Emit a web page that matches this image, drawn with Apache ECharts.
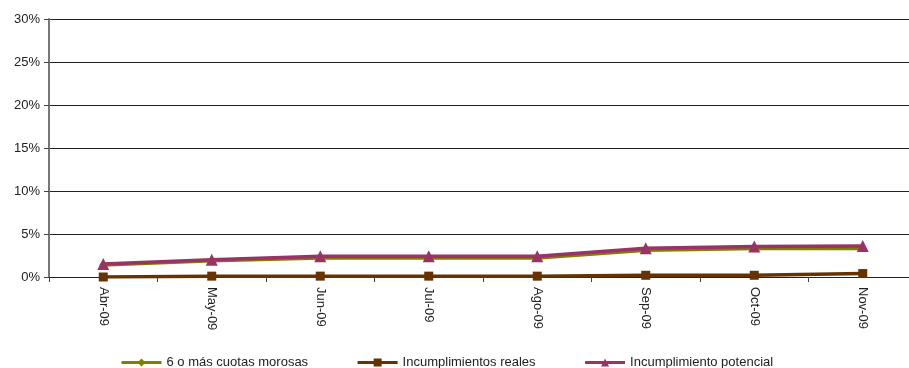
<!DOCTYPE html>
<html>
<head>
<meta charset="utf-8">
<script src="https://cdn.jsdelivr.net/npm/echarts@6/dist/echarts.min.js"></script>
<style>
    html, body { margin: 0; padding: 0; background: #fff; overflow: hidden; }
    #chart { width: 917px; height: 368px; }
</style>
</head>
<body>
<div id="chart"></div>
<script>
// datos
var months = ['Abr-09', 'May-09', 'Jun-09', 'Jul-09', 'Ago-09', 'Sep-09', 'Oct-09', 'Nov-09'];
var cuotasMorosas = [1.4, 1.9, 2.2, 2.2, 2.2, 3.1, 3.3, 3.3];
var incumplimientosReales = [0.0, 0.1, 0.1, 0.1, 0.1, 0.2, 0.2, 0.4];
var incumplimientoPotencial = [1.5, 2.0, 2.4, 2.4, 2.4, 3.35, 3.55, 3.6];

var fontName = "'Liberation Sans Narrow', 'Arial Narrow', 'Liberation Sans', sans-serif";

function chartRender() {
    var myChart = echarts.init(document.getElementById('chart'));
    var option = {
        animation: false,
        textStyle: { fontFamily: fontName },
        // el ancho del div es 917 para que el eje se corte a la derecha como en el original
        grid: {
            left: 49,
            right: 0,
            top: 19,
            bottom: 91
        },
        legend: {
            top: 351,
            left: 115,
            itemWidth: 40,
            itemHeight: 10,
            itemGap: 48,
            lineStyle: { width: 3 },
            textStyle: { fontFamily: fontName, fontSize: 13, color: '#222' },
            data: ['6 o más cuotas morosas', 'Incumplimientos reales', 'Incumplimiento potencial']
        },
        xAxis: {
            type: 'category',
            data: months,
            boundaryGap: true,
            axisLine: { lineStyle: { color: '#222', width: 1 } },
            axisTick: { show: true, length: 5, lineStyle: { color: '#444' } },
            axisLabel: {
                rotate: -90,
                margin: 10,
                fontFamily: fontName,
                fontSize: 13,
                color: '#222'
            }
        },
        yAxis: {
            type: 'value',
            min: 0,
            max: 30,
            interval: 5,
            axisLine: { show: true, lineStyle: { color: '#777', width: 2 } },
            axisTick: { show: true, length: 5, lineStyle: { color: '#444' } },
            axisLabel: {
                formatter: '{value}%',
                margin: 9,
                fontFamily: fontName,
                fontSize: 13,
                color: '#222'
            },
            splitLine: { lineStyle: { color: '#222', width: 1 } }
        },
        series: [
            {
                name: '6 o más cuotas morosas',
                type: 'line',
                data: cuotasMorosas,
                symbol: 'diamond',
                symbolSize: 8,
                color: '#808000',
                lineStyle: { width: 3.5, color: '#808000' },
                itemStyle: { color: '#808000' }
            },
            {
                name: 'Incumplimientos reales',
                type: 'line',
                data: incumplimientosReales,
                symbol: 'rect',
                symbolSize: 9,
                color: '#663300',
                lineStyle: { width: 3.5, color: '#663300' },
                itemStyle: { color: '#663300' }
            },
            {
                name: 'Incumplimiento potencial',
                type: 'line',
                data: incumplimientoPotencial,
                symbol: 'triangle',
                symbolSize: 12,
                color: '#993366',
                lineStyle: { width: 3.5, color: '#993366' },
                itemStyle: { color: '#993366' }
            }
        ]
    };
    myChart.setOption(option);
}

chartRender();
</script>
</body>
</html>
